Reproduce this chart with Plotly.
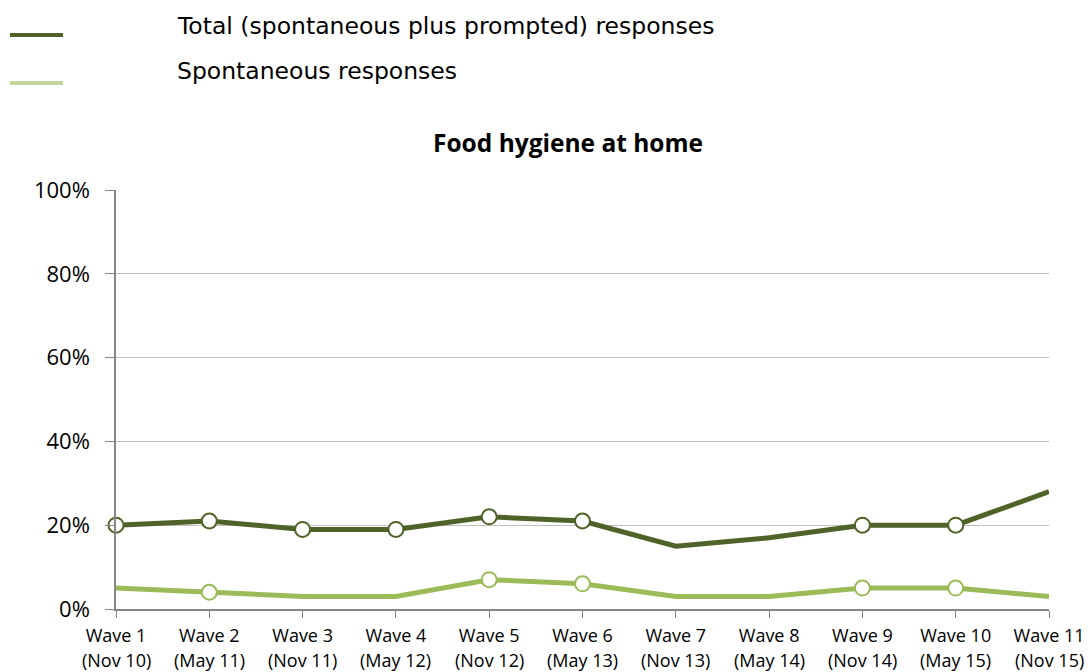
import plotly.graph_objects as go

waves = ["Wave 1", "Wave 2", "Wave 3", "Wave 4", "Wave 5", "Wave 6",
         "Wave 7", "Wave 8", "Wave 9", "Wave 10", "Wave 11"]
dates = ["(Nov 10)", "(May 11)", "(Nov 11)", "(May 12)", "(Nov 12)", "(May 13)",
         "(Nov 13)", "(May 14)", "(Nov 14)", "(May 15)", "(Nov 15)"]
total = [20, 21, 19, 19, 22, 21, 15, 17, 20, 20, 28]
spontaneous = [5, 4, 3, 3, 7, 6, 3, 3, 5, 5, 3]
# markers shown only on some waves
total_marked = [1, 1, 1, 1, 1, 1, 0, 0, 1, 1, 0]
spont_marked = [0, 1, 0, 0, 1, 1, 0, 0, 1, 1, 0]
y_tickvals = [0, 20, 40, 60, 80, 100]
y_ticktext = ["0%", "20%", "40%", "60%", "80%", "100%"]

series_names = ["Total (spontaneous plus prompted) responses", "Spontaneous responses"]
dark = "#4F6228"
light = "#9BBB59"
legend_light = "#C3D69B"
axis_col = "#868686"

x = list(range(len(waves)))

fig = go.Figure()
for vals, marks, col in [(total, total_marked, dark), (spontaneous, spont_marked, light)]:
    fig.add_trace(go.Scatter(
        x=x, y=vals, mode="lines", line=dict(color=col, width=5),
        showlegend=False, cliponaxis=False, hoverinfo="skip"))
    mx = [xi for xi, m in zip(x, marks) if m]
    my = [v for v, m in zip(vals, marks) if m]
    fig.add_trace(go.Scatter(
        x=mx, y=my, mode="markers",
        marker=dict(size=15, color="white", line=dict(color=col, width=2)),
        showlegend=False, cliponaxis=False, hoverinfo="skip"))

fig.update_layout(
    width=1088, height=672,
    margin=dict(l=116, r=39, t=190, b=63, autoexpand=False),
    paper_bgcolor="white", plot_bgcolor="white",
    font=dict(family="Open Sans", color="#000000"),
    title=dict(text="<b>Food hygiene at home</b>", x=568 / 1088, xanchor="center",
               y=1 - 143 / 672, yanchor="middle",
               font=dict(family="Open Sans", size=24.5, color="#000000")),
    xaxis=dict(range=[0, 10], tickvals=x, ticktext=waves, showgrid=False,
               showline=True, linecolor=axis_col, linewidth=1.5,
               ticks="outside", ticklen=7, tickcolor=axis_col,
               ticklabelstandoff=3, ticklabeloverflow="allow",
               tickfont=dict(family="Open Sans", size=18, color="#000000"),
               zeroline=False, fixedrange=True),
    yaxis=dict(range=[0, 100], tickvals=y_tickvals, ticktext=y_ticktext,
               showgrid=True, gridcolor="#BFBFBF", gridwidth=1,
               showline=True, linecolor=axis_col, linewidth=1.5,
               ticks="outside", ticklen=9, tickcolor=axis_col,
               ticklabelstandoff=11,
               tickfont=dict(family="Open Sans", size=22, color="#000000"),
               zeroline=False, fixedrange=True),
)

# second line of the category labels
for xi, d in zip(x, dates):
    fig.add_annotation(text=d, x=xi, xref="x", y=0, yref="y",
                       yshift=-51, yanchor="middle", showarrow=False,
                       font=dict(family="Open Sans", size=18, color="#000000"))

# legend drawn manually
legend_items = [(series_names[0], dark, 35, 26), (series_names[1], legend_light, 83, 71)]
for name, col, ly, ty in legend_items:
    fig.add_shape(type="line", xref="paper", yref="paper",
                  x0=(10 - 116) / 933, x1=(63 - 116) / 933,
                  y0=(609 - ly) / 419, y1=(609 - ly) / 419,
                  line=dict(color=col, width=4))
    fig.add_annotation(text=name, xref="paper", yref="paper",
                       x=(175 - 116) / 933, y=(609 - ty) / 419,
                       xanchor="left", yanchor="middle", showarrow=False,
                       font=dict(family="DejaVu Sans", size=23.5, color="#000000"))

fig.write_html("out.html", config={"displayModeBar": False},
               post_script="document.body.style.margin='0';document.body.style.overflow='hidden';")
